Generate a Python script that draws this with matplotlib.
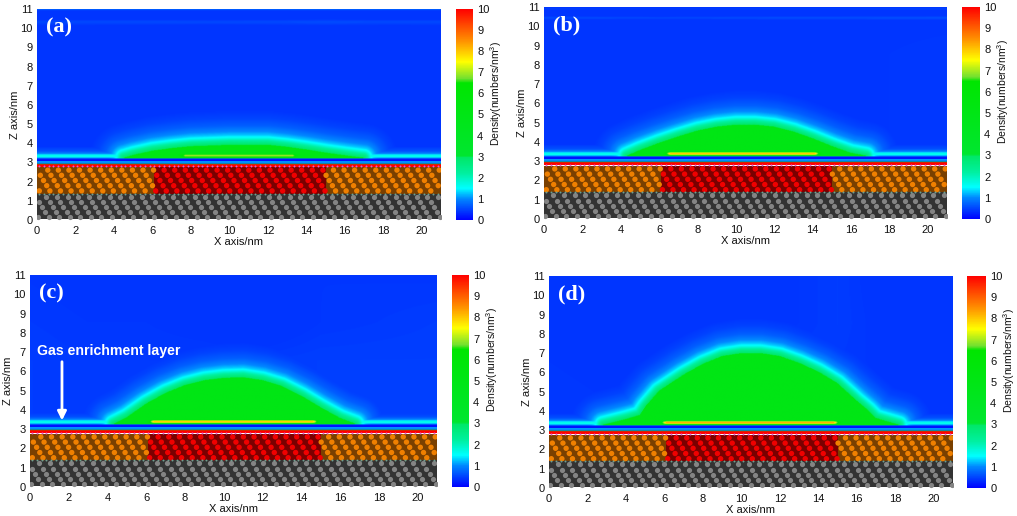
import numpy as np
import matplotlib
matplotlib.use("Agg")
import matplotlib.pyplot as plt
from matplotlib.colors import LinearSegmentedColormap

plt.rcParams["font.family"] = ["Liberation Sans", "DejaVu Sans"]
plt.rcParams["mathtext.default"] = "regular"

W, H = 1017, 516

# axes boxes in pixels: x0, x1, top, bottom, colorbar x0, colorbar x1
boxes = {"a": (37, 441, 9, 220, 456, 473),
         "b": (544, 947, 7, 219, 962, 980),
         "c": (30, 437, 275, 487, 452, 469),
         "d": (549, 953, 276, 488, 967, 986)}

# upper edge of the green droplet
dome_x = {"a": [4.5, 5, 6, 7, 8, 10, 12, 13, 14, 15, 16, 17],
          "b": [4.3, 5, 6, 7, 8, 9, 10, 11, 12, 13, 14, 15, 16, 16.8],
          "c": [4.3, 5, 6, 7, 8, 9, 10, 11, 12, 13, 14, 15, 16, 16.8],
          "d": [2.8, 4, 4.7, 5, 5.7, 7, 8, 9, 10, 11, 12, 13, 14, 15, 16, 16.6, 17, 18.2]}
dome_top = {"a": [3.25, 3.4, 3.62, 3.75, 3.85, 3.92, 3.92, 3.82, 3.68, 3.52, 3.38, 3.25],
            "b": [3.25, 3.55, 3.92, 4.25, 4.55, 4.75, 4.85, 4.85, 4.75, 4.5, 4.15, 3.75, 3.4, 3.25],
            "c": [3.25, 3.6, 4.3, 4.85, 5.25, 5.5, 5.62, 5.65, 5.5, 5.2, 4.7, 4.1, 3.55, 3.25],
            "d": [3.25, 3.55, 3.75, 4.2, 5.0, 5.85, 6.4, 6.8, 6.95, 6.95, 6.8, 6.45, 6.0, 5.4, 4.5, 4.0, 3.6, 3.25]}

# bright strip just above the wall: x range and peak density
stripe_x = {"a": (7.4, 13.6), "b": (6.3, 14.4), "c": (6.1, 14.9), "d": (5.8, 15.1)}
stripe_peak = {"a": 7.1, "b": 8.3, "c": 8.2, "d": 8.5}

# density against distance from the droplet edge
rim_dist = [0.0, 0.12, 0.25, 0.38, 0.5, 0.7, 1.0, 1.4, 1.8]
rim_density = [3.0, 2.6, 2.1, 1.6, 1.3, 1.0, 0.7, 0.5, 0.4]

# flat layers along the wall
layer_z = [2.78, 2.84, 2.91, 2.95, 2.98, 3.03, 3.1, 3.14, 3.2, 3.29, 3.37, 3.46, 3.6, 3.9]
layer_d = [10.0, 10.0, 10.0, 1.0, 0.5, 1.5, 0.0, 0.0, 0.5, 1.6, 1.7, 1.0, 0.6, 0.35]

# stripes at the top of the box, added on the background
top_z = {"a": [10.1, 10.2, 10.32, 10.45, 10.62, 10.75, 10.9, 11.0],
         "b": [10.1, 10.25, 10.38, 10.5, 10.7, 10.85, 10.92, 11.0],
         "c": [10.6, 10.75, 10.85, 10.95, 11.0, 11.0, 11.0, 11.0],
         "d": [10.9, 10.95, 11.0, 11.0, 11.0, 11.0, 11.0, 11.0]}
top_d = {"a": [0.0, 0.1, 0.2, 0.05, -0.1, -0.15, 0.0, 0.5],
         "b": [0.0, 0.0, 0.2, 0.0, -0.15, 0.15, -0.1, 0.5],
         "c": [0.0, -0.05, -0.1, 0.0, 0.4, 0.4, 0.4, 0.4],
         "d": [0.0, 0.0, 0.4, 0.4, 0.4, 0.4, 0.4, 0.4]}

# mottled background, columns over bg_x, rows over bg_z
bg_x = [0, 3, 6, 9, 12, 15, 18, 21]
bg_z = [4.5, 6.5, 8.5, 10.5]
bg = {"a": [[0.39, 0.37, 0.35, 0.37, 0.37, 0.37, 0.39, 0.39],
            [0.39, 0.37, 0.31, 0.31, 0.35, 0.37, 0.35, 0.38],
            [0.39, 0.38, 0.35, 0.29, 0.35, 0.38, 0.37, 0.39],
            [0.35, 0.35, 0.35, 0.35, 0.35, 0.37, 0.35, 0.35]],
      "b": [[0.41, 0.37, 0.35, 0.39, 0.39, 0.39, 0.41, 0.43],
            [0.41, 0.35, 0.33, 0.35, 0.39, 0.39, 0.41, 0.43],
            [0.41, 0.37, 0.29, 0.32, 0.39, 0.39, 0.41, 0.43],
            [0.37, 0.35, 0.33, 0.35, 0.37, 0.37, 0.39, 0.39]],
      "c": [[0.45, 0.43, 0.43, 0.45, 0.45, 0.47, 0.47, 0.47],
            [0.45, 0.43, 0.43, 0.43, 0.45, 0.47, 0.47, 0.47],
            [0.43, 0.41, 0.41, 0.39, 0.33, 0.41, 0.43, 0.45],
            [0.41, 0.39, 0.39, 0.39, 0.37, 0.41, 0.41, 0.41]],
      "d": [[0.43, 0.41, 0.41, 0.45, 0.47, 0.45, 0.41, 0.41],
            [0.41, 0.39, 0.39, 0.43, 0.47, 0.43, 0.39, 0.41],
            [0.41, 0.39, 0.37, 0.35, 0.39, 0.45, 0.37, 0.39],
            [0.39, 0.35, 0.33, 0.35, 0.39, 0.45, 0.35, 0.39]]}

x_ticks = list(range(0, 21, 2))
z_ticks = list(range(0, 12))
bar_ticks = list(range(0, 11))

# colorbar: long flat green, short yellow and orange
cmap_pos = [0, 1, 1.5, 2.2, 2.95, 3.05, 6.5, 6.7, 7.5, 8.5, 10]
cmap_col = ["#0000ff", "#0088ff", "#00ffff", "#00f0a0", "#00e868", "#00e630", "#00e600",
            "#70e030", "#ffff00", "#ff9000", "#ff0000"]
jetish = LinearSegmentedColormap.from_list(
    "jetish", [(p / 10, c) for p, c in zip(cmap_pos, cmap_col)], N=512)


def density_field(key, xs, zs):
    # coarse background first, column then row
    rows = np.array([np.interp(xs, bg_x, r) for r in bg[key]])
    field = np.array([np.interp(zs, bg_z, rows[:, j]) for j in range(xs.size)]).T
    field = field + np.interp(zs, top_z[key], top_d[key], left=0)[:, None]

    ox = np.linspace(dome_x[key][0], dome_x[key][-1], 300)
    oz = np.interp(ox, dome_x[key], dome_top[key])
    for j, x in enumerate(xs):
        dist = np.min(np.hypot(x - ox[:, None], zs - oz[:, None]), axis=0)
        rim = np.interp(dist, rim_dist, rim_density)
        if dome_x[key][0] < x < dome_x[key][-1]:
            rim[zs < np.interp(x, dome_x[key], dome_top[key])] = 5.0
        field[:, j] = np.maximum(field[:, j], rim)

    layers = np.interp(zs, layer_z, layer_d)
    wall = zs < 3.22
    field[wall, :] = layers[wall, None]
    field[~wall, :] = np.maximum(field[~wall, :], layers[~wall, None])

    s0, s1 = stripe_x[key]
    across = np.interp(xs, [s0 - 0.1, s0 + 0.3, s1 - 0.3, s1 + 0.1], [0, 1, 1, 0])
    up = np.interp(zs, [3.27, 3.3, 3.36, 3.42, 3.45], [0, 0.7, 1, 0.7, 0])
    strip = up[:, None] * across[None, :]
    field = np.where(strip > 0, np.maximum(field, 5 + (stripe_peak[key] - 5) * strip), field)
    return field


def draw_lattice(ax):
    # substrate sketch: dark block with rows of atoms sheared to the left going up
    ax.fill_between([0, 21], 1.38, 2.76, color="#7a4000", lw=0, zorder=2)
    ax.fill_between([6.1, 15], 1.38, 2.76, color="#7a0000", lw=0, zorder=2)
    ax.fill_between([0, 21], 0.03, 1.38, color="#333333", lw=0, zorder=2)
    for k, z in enumerate(np.arange(1.52, 2.7, 0.27)):
        xa = np.arange(0.12 + (-k * 0.165) % 0.55, 21, 0.55)
        col = np.where((xa > 6.1) & (xa < 15), "#f00000", "#f08000")
        ax.scatter(xa, np.full_like(xa, z), s=15, c=col, lw=0, zorder=3)
    for k, z in enumerate(np.arange(0.14, 1.3, 0.27)):
        xa = np.arange(0.05 + (-k * 0.165) % 0.55, 21, 0.55)
        ax.scatter(xa, np.full_like(xa, z), s=14, c="#848484", lw=0, zorder=3)
    xa = np.arange(0.1, 21, 0.25)
    ax.scatter(xa, np.full_like(xa, 1.38), s=2, c="#70a090", lw=0, zorder=4)
    ax.scatter(xa, np.full_like(xa, 2.8), s=2, c="#e060d0", lw=0, zorder=4)


fig = plt.figure(figsize=(W / 100, H / 100), dpi=100)
xs = np.arange(0, 21.01, 0.05)
zs = np.arange(2.78, 11.001, 0.025)

for key, (x0, x1, top, bot, c0, c1) in boxes.items():
    ax = fig.add_axes([x0 / W, 1 - bot / H, (x1 - x0) / W, (bot - top) / H])
    im = ax.imshow(density_field(key, xs, zs), origin="lower", extent=(0, 21, 2.78, 11),
                   cmap=jetish, vmin=0, vmax=10, aspect="auto", interpolation="bilinear", zorder=1)
    draw_lattice(ax)
    ax.set_xlim(0, 21)
    ax.set_ylim(0, 11)
    ax.set_xticks(x_ticks)
    ax.set_yticks(z_ticks)
    ax.tick_params(length=0, labelsize=8, colors="#111111")
    ax.tick_params(axis="x", pad=4)
    ax.tick_params(axis="y", pad=3)
    ax.set_xlabel("X axis/nm", fontsize=8, labelpad=1, color="#111111")
    ax.set_ylabel("Z axis/nm", fontsize=8, labelpad=0, color="#111111")
    for sp in ax.spines.values():
        sp.set_visible(False)
    ax.text(0.45, 10.02, f"({key})", color="white", fontsize=16, fontweight="bold",
            family="Liberation Serif", va="center", ha="left", zorder=5)

    cax = fig.add_axes([c0 / W, 1 - bot / H, (c1 - c0) / W, (bot - top) / H])
    cb = fig.colorbar(im, cax=cax, ticks=bar_ticks)
    cb.outline.set_visible(False)
    cb.ax.tick_params(length=0, labelsize=8, pad=3, colors="#111111")
    cax.text(1 + 23 / (c1 - c0), 0.6, "Density(numbers/nm$^3$)", fontsize=7.5, color="#111111",
             rotation=90, ha="center", va="center", transform=cax.transAxes)

    if key == "c":
        ax.text(0.35, 7.05, "Gas enrichment layer", color="white", fontsize=10.2,
                fontweight="bold", va="center", ha="left", zorder=5)
        ax.annotate("", xy=(1.65, 3.45), xytext=(1.65, 6.5), zorder=5,
                    arrowprops=dict(arrowstyle="-|>", color="white", lw=2, mutation_scale=13,
                                    shrinkA=0, shrinkB=0))

fig.savefig("out.png", dpi=100)
